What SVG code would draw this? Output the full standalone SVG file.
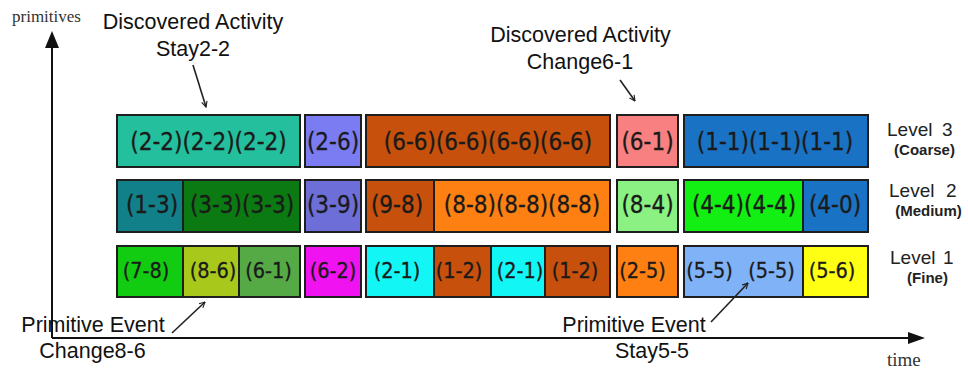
<svg xmlns="http://www.w3.org/2000/svg" width="968" height="374" viewBox="0 0 968 374">
  <style>
    .cell { stroke: #1e1e1e; stroke-width: 2; }
    .lbl { font-family: "DejaVu Sans Condensed", "Liberation Sans", Arial, sans-serif; fill: #1a1a1a; text-anchor: middle; stroke: #1a1a1a; stroke-width: 0.3; }
    .big { font-size: 24px; }
    .small { font-size: 21.5px; }
    .note { font-family: "Liberation Sans", Arial, sans-serif; font-size: 21.5px; fill: #111; text-anchor: middle; }
    .axis-t { font-family: "Liberation Serif", "Times New Roman", serif; fill: #333; }
    .lvl { font-family: "Liberation Sans", Arial, sans-serif; font-size: 19px; fill: #222; }
    .lvl-sub { font-family: "Liberation Sans", Arial, sans-serif; font-size: 15px; font-weight: bold; fill: #222; text-anchor: middle; }
    .pointer { stroke: #222; stroke-width: 1.6; fill: none; }
  </style>
  <defs>
    <marker id="open-head" viewBox="0 0 10 10" refX="9" refY="5" markerWidth="7" markerHeight="7" markerUnits="userSpaceOnUse" orient="auto">
      <path d="M1,1 L9,5 L1,9" fill="none" stroke="#222" stroke-width="1.6"/>
    </marker>
  </defs>
  <rect width="968" height="374" fill="#ffffff"/>

  <!-- axes -->
  <g id="axes">
    <line x1="52" y1="338" x2="910" y2="338" stroke="#111" stroke-width="2"/>
    <polygon points="925,338 908,332 908,344" fill="#111"/>
    <line x1="52" y1="338" x2="52" y2="46" stroke="#111" stroke-width="2"/>
    <polygon points="52,31 45,48 59,48" fill="#111"/>
    <text class="axis-t" x="12" y="22" font-size="17">primitives</text>
    <text class="axis-t" x="887" y="366" font-size="19">time</text>
  </g>

  <!-- Level 3 (coarse) -->
  <g id="level3">
    <g id="n-l3-22">
      <rect class="cell" x="117" y="115" width="183" height="52" fill="#24bf9c"/>
      <text class="lbl big" x="208.5" y="150">(2-2)(2-2)(2-2)</text>
    </g>
    <g id="n-l3-26">
      <rect class="cell" x="305" y="115" width="56" height="52" fill="#7c7cf2"/>
      <text class="lbl big" x="333" y="150">(2-6)</text>
    </g>
    <g id="n-l3-66">
      <rect class="cell" x="366" y="115" width="244" height="52" fill="#c6500c"/>
      <text class="lbl big" x="488" y="150">(6-6)(6-6)(6-6)(6-6)</text>
    </g>
    <g id="n-l3-61">
      <rect class="cell" x="617" y="115" width="61" height="52" fill="#f88080"/>
      <text class="lbl big" x="647.5" y="150">(6-1)</text>
    </g>
    <g id="n-l3-11">
      <rect class="cell" x="684" y="115" width="184" height="52" fill="#1a72c4"/>
      <text class="lbl big" x="775" y="150">(1-1)(1-1)(1-1)</text>
    </g>
  </g>

  <!-- Level 2 (medium) -->
  <g id="level2">
    <g id="n-l2-13">
      <rect class="cell" x="117" y="180" width="66" height="52" fill="#128088"/>
      <text class="lbl big" x="152" y="213">(1-3)</text>
    </g>
    <g id="n-l2-33">
      <rect class="cell" x="183" y="180" width="117" height="52" fill="#0c7a12"/>
      <text class="lbl big" x="242" y="213">(3-3)(3-3)</text>
    </g>
    <g id="n-l2-39">
      <rect class="cell" x="305" y="180" width="56" height="52" fill="#6e6ed8"/>
      <text class="lbl big" x="333" y="213">(3-9)</text>
    </g>
    <g id="n-l2-98">
      <rect class="cell" x="366" y="180" width="68" height="52" fill="#c6500c"/>
      <text class="lbl big" x="397" y="213">(9-8)</text>
    </g>
    <g id="n-l2-88">
      <rect class="cell" x="434" y="180" width="176" height="52" fill="#ff8012"/>
      <text class="lbl big" x="522" y="213">(8-8)(8-8)(8-8)</text>
    </g>
    <g id="n-l2-84">
      <rect class="cell" x="617" y="180" width="61" height="52" fill="#8af182"/>
      <text class="lbl big" x="647.5" y="213">(8-4)</text>
    </g>
    <g id="n-l2-44">
      <rect class="cell" x="684" y="180" width="119" height="52" fill="#13ee13"/>
      <text class="lbl big" x="744" y="213">(4-4)(4-4)</text>
    </g>
    <g id="n-l2-40">
      <rect class="cell" x="803" y="180" width="65" height="52" fill="#1a72c4"/>
      <text class="lbl big" x="835" y="213">(4-0)</text>
    </g>
  </g>

  <!-- Level 1 (fine) -->
  <g id="level1">
    <g id="n-l1-78">
      <rect class="cell" x="117" y="246" width="66" height="51" fill="#12cc12"/>
      <text class="lbl small" x="146" y="278">(7-8)</text>
    </g>
    <g id="n-l1-86">
      <rect class="cell" x="183" y="246" width="56" height="51" fill="#a8c81c"/>
      <text class="lbl small" x="213" y="278">(8-6)</text>
    </g>
    <g id="n-l1-61">
      <rect class="cell" x="239" y="246" width="61" height="51" fill="#56aa46"/>
      <text class="lbl small" x="268.5" y="278">(6-1)</text>
    </g>
    <g id="n-l1-62">
      <rect class="cell" x="305" y="246" width="56" height="51" fill="#f012f0"/>
      <text class="lbl small" x="333" y="278">(6-2)</text>
    </g>
    <g id="n-l1-21a">
      <rect class="cell" x="366" y="246" width="68" height="51" fill="#12f6f6"/>
      <text class="lbl small" x="397" y="278">(2-1)</text>
    </g>
    <g id="n-l1-12a">
      <rect class="cell" x="434" y="246" width="57" height="51" fill="#c6500c"/>
      <text class="lbl small" x="459" y="278">(1-2)</text>
    </g>
    <g id="n-l1-21b">
      <rect class="cell" x="491" y="246" width="54" height="51" fill="#12f6f6"/>
      <text class="lbl small" x="520" y="278">(2-1)</text>
    </g>
    <g id="n-l1-12b">
      <rect class="cell" x="545" y="246" width="65" height="51" fill="#c6500c"/>
      <text class="lbl small" x="575" y="278">(1-2)</text>
    </g>
    <g id="n-l1-25">
      <rect class="cell" x="617" y="246" width="61" height="51" fill="#ff8012"/>
      <text class="lbl small" x="642.5" y="278">(2-5)</text>
    </g>
    <g id="n-l1-55">
      <rect class="cell" x="684" y="246" width="119" height="51" fill="#80b2f8"/>
      <text class="lbl small" x="709.5" y="278">(5-5)</text>
      <text class="lbl small" x="771.5" y="278">(5-5)</text>
    </g>
    <g id="n-l1-56">
      <rect class="cell" x="803" y="246" width="65" height="51" fill="#ffff14"/>
      <text class="lbl small" x="832" y="278">(5-6)</text>
    </g>
  </g>

  <!-- level captions -->
  <g id="captions">
    <text class="lvl" x="887" y="136">Level<tspan x="942">3</tspan></text>
    <text class="lvl-sub" x="924.5" y="155">(Coarse)</text>
    <text class="lvl" x="889" y="197">Level<tspan x="946">2</tspan></text>
    <text class="lvl-sub" x="928.5" y="216">(Medium)</text>
    <text class="lvl" x="890" y="264">Level<tspan x="943">1</tspan></text>
    <text class="lvl-sub" x="927.5" y="283">(Fine)</text>
  </g>

  <!-- annotations -->
  <g id="notes">
    <text class="note" x="193" y="29">Discovered Activity</text>
    <text class="note" x="193" y="56">Stay2-2</text>
    <text class="note" x="580.5" y="42">Discovered Activity</text>
    <text class="note" x="580" y="69">Change6-1</text>
    <text class="note" x="93" y="332">Primitive Event</text>
    <text class="note" x="92.5" y="358">Change8-6</text>
    <text class="note" x="634" y="332">Primitive Event</text>
    <text class="note" x="652" y="358">Stay5-5</text>
  </g>

  <!-- connectors -->
  <g id="connectors">
    <line class="pointer" x1="193" y1="65" x2="206" y2="107" marker-end="url(#open-head)"/>
    <line class="pointer" x1="620" y1="80" x2="635" y2="101" marker-end="url(#open-head)"/>
    <line class="pointer" x1="172" y1="333" x2="205" y2="302" marker-end="url(#open-head)"/>
    <line class="pointer" x1="711" y1="322" x2="748" y2="283" marker-end="url(#open-head)"/>
  </g>
</svg>
